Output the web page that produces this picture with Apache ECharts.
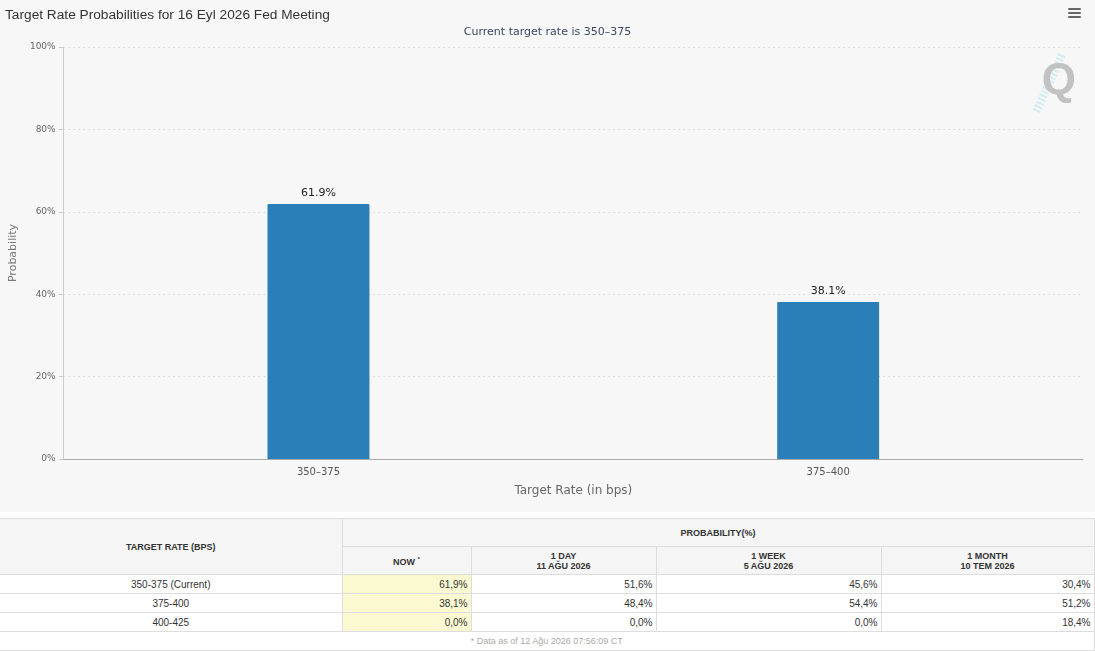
<!DOCTYPE html>
<html>
<head>
<meta charset="utf-8">
<script src="https://cdn.jsdelivr.net/npm/echarts@6/dist/echarts.min.js"></script>
<style>
	body { margin: 0; background: #fff; width: 1095px; height: 651px; overflow: hidden; }
	#chart { width: 1095px; height: 512px; }
	#probTable { position: absolute; left: 0; top: 518px; width: 1094px; border-collapse: collapse; table-layout: fixed; font-family: Arial, "Liberation Sans", sans-serif; color: #333; }
	#probTable td, #probTable th { border: 1px solid #ddd; padding: 0 3px; }
	#probTable th { background: #f5f5f5; font-size: 9px; font-weight: bold; text-align: center; line-height: 10px; }
	#probTable td { font-size: 10px; height: 18px; text-align: right; }
	#probTable td.rate { text-align: center; }
	#probTable td.now { background: #fbf9d2; }
	#probTable td.note { text-align: center; color: #aaa; font-size: 9px; }
	#probTable tr, #probTable td, #probTable th { border-left: none; }
</style>
</head>
<body>
<div id="chart"></div>
<table id="probTable"></table>
<script>
//柱状图数据
var categories = ["350-375", "375-400"];
var probNow = [61.9, 38.1];
var yTicks = [0, 20, 40, 60, 80, 100];

//表格数据
var tableRates = ["350-375 (Current)", "375-400", "400-425"];
var tableNow = ["61,9%", "38,1%", "0,0%"];
var tableDay = ["51,6%", "48,4%", "0,0%"];
var tableWeek = ["45,6%", "54,4%", "0,0%"];
var tableMonth = ["30,4%", "51,2%", "18,4%"];
var tableHeads = ["NOW <sup style='font-size:6px'>*</sup>", "1 DAY<br>11 AĞU 2026", "1 WEEK<br>5 AĞU 2026", "1 MONTH<br>10 TEM 2026"];

function buildTable() {
	var str = '<colgroup><col style="width:342px"><col style="width:129px"><col style="width:185px"><col style="width:225px"><col style="width:213px"></colgroup>';
	str += '<tr style="height:28px"><th rowspan="2">TARGET RATE (BPS)</th><th colspan="4">PROBABILITY(%)</th></tr>';
	str += '<tr style="height:28px">';
	for(var i = 0; i < tableHeads.length; i++) {
		str += '<th>' + tableHeads[i] + '</th>';
	}
	str += '</tr>';
	for(var j = 0; j < tableRates.length; j++) {
		str += '<tr><td class="rate">' + tableRates[j] + '</td><td class="now">' + tableNow[j] + '</td><td>' + tableDay[j] + '</td><td>' + tableWeek[j] + '</td><td>' + tableMonth[j] + '</td></tr>';
	}
	str += '<tr><td class="note" colspan="5">* Data as of 12 Ağu 2026 07:56:09 CT</td></tr>';
	document.getElementById("probTable").innerHTML = str;
}

function drawChart() {
	var option = {
		backgroundColor: '#f7f7f7',
		animation: false,
		textStyle: {
			fontFamily: '"DejaVu Sans", Verdana, sans-serif'
		},
		title: [{
			text: 'Target Rate Probabilities for 16 Eyl 2026 Fed Meeting',
			left: 0,
			top: 3,
			textStyle: {
				fontFamily: 'Arial, "Liberation Sans", sans-serif',
				fontSize: 13.7,
				fontWeight: 'normal',
				color: '#333'
			}
		}, {
			text: 'Current target rate is 350–375',
			left: 'center',
			top: 22,
			textStyle: {
				fontFamily: '"DejaVu Sans", Verdana, sans-serif',
				fontSize: 11,
				fontWeight: 'normal',
				color: '#3d4666'
			}
		}],
		grid: {
			left: 62,
			right: 12,
			top: 47,
			bottom: 53
		},
		xAxis: {
			type: 'category',
			data: categories,
			name: 'Target Rate (in bps)',
			nameLocation: 'middle',
			nameGap: 26,
			nameTextStyle: {
				color: '#666',
				fontSize: 12
			},
			axisLine: {
				lineStyle: { color: '#aaa' }
			},
			axisTick: {
				alignWithLabel: true,
				length: 6,
				lineStyle: { color: '#ccc' }
			},
			axisLabel: {
				color: '#555',
				fontSize: 10,
				margin: 8,
				formatter: function(v) { return v.replace('-', '–'); }
			}
		},
		yAxis: {
			type: 'value',
			min: yTicks[0],
			max: yTicks[yTicks.length - 1],
			interval: 20,
			name: 'Probability',
			nameLocation: 'middle',
			nameGap: 44,
			nameTextStyle: {
				color: '#777',
				fontSize: 11
			},
			axisLine: {
				show: true,
				lineStyle: { color: '#ccc' }
			},
			axisTick: {
				show: true,
				length: 5,
				lineStyle: { color: '#ccc' }
			},
			axisLabel: {
				color: '#666',
				fontSize: 9,
				margin: 8,
				formatter: '{value}%'
			},
			splitLine: {
				lineStyle: {
					color: '#ccc',
					type: [1, 4]
				}
			}
		},
		series: [{
			name: 'Probability',
			type: 'bar',
			data: probNow,
			barWidth: '20%',
			itemStyle: {
				color: '#2a7fb8',
				borderRadius: [1, 1, 0, 0]
			},
			label: {
				show: true,
				position: 'top',
				color: '#222',
				fontSize: 11,
				distance: 5,
				formatter: '{c}%'
			}
		}],
		graphic: [
			//菜单按钮
			{ type: 'rect', right: 14, top: 8, shape: { width: 13, height: 2, r: 1 }, style: { fill: '#666' } },
			{ type: 'rect', right: 14, top: 12, shape: { width: 13, height: 2, r: 1 }, style: { fill: '#666' } },
			{ type: 'rect', right: 14, top: 16, shape: { width: 13, height: 2, r: 1 }, style: { fill: '#666' } },
			//Q标志
			{ type: 'line', shape: { x1: 1062, y1: 55, x2: 1036, y2: 112 }, style: { stroke: '#d3ebf3', lineWidth: 8, lineDash: [2, 2] } },
			{ type: 'text', right: 19, top: 60, style: { text: 'Q', fill: '#c2c2c2', font: 'bold 44px Arial, "Liberation Sans", sans-serif' } }
		]
	};
	var chart = echarts.init(document.getElementById("chart"));
	chart.setOption(option);
}

buildTable();
drawChart();
</script>
</body>
</html>
